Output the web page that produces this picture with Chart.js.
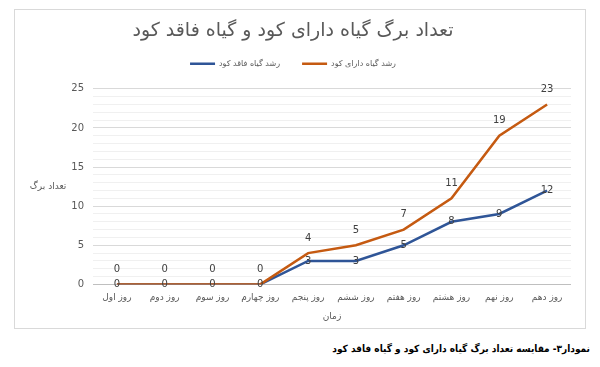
<!DOCTYPE html>
<html lang="fa">
<head>
    <meta charset="UTF-8">
    <title>تعداد برگ گیاه</title>
    <style>
        body { margin: 0; background: #fff; width: 600px; height: 367px; position: relative; overflow: hidden; }
        #box { position: absolute; left: 14px; top: 9px; width: 570px; height: 318px; border: 1px solid #d9d9d9; }
        #caption { position: absolute; right: 10px; top: 343px; font: bold 10px "DejaVu Sans Condensed", "DejaVu Sans", sans-serif; color: #000; direction: rtl; }
    </style>
</head>
<body>
    <div id="box">
        <canvas id="leafChart" width="570" height="318"></canvas>
    </div>
    <div id="caption">نمودار۳- مقایسه تعداد برگ گیاه دارای کود و گیاه فاقد کود</div>
    <script src="https://cdn.jsdelivr.net/npm/chart.js"></script>
    <script>
        // data
        const days = ['روز اول', 'روز دوم', 'روز سوم', 'روز چهارم', 'روز پنجم', 'روز ششم', 'روز هفتم', 'روز هشتم', 'روز نهم', 'روز دهم'];
        const withFertilizer = [0, 0, 0, 0, 4, 5, 7, 11, 19, 23];
        const withoutFertilizer = [0, 0, 0, 0, 3, 3, 5, 8, 9, 12];

        const labelColor = '#595959';
        const fontFamily = '"DejaVu Sans", sans-serif';

        // value labels: red above the point, blue centred on it
        const valueLabels = {
            id: 'valueLabels',
            afterDatasetsDraw(chart) {
                const ctx = chart.ctx;
                ctx.save();
                ctx.font = '10px ' + fontFamily;
                ctx.fillStyle = '#404040';
                ctx.textAlign = 'center';
                ctx.textBaseline = 'middle';
                chart.data.datasets.forEach((ds, i) => {
                    const meta = chart.getDatasetMeta(i);
                    meta.data.forEach((pt, j) => {
                        const dy = ds.labelAbove ? -15 : 0;
                        ctx.fillText(ds.data[j], pt.x, pt.y + dy);
                    });
                });
                ctx.restore();
            }
        };

        // horizontal y axis title
        const yTitle = {
            id: 'yTitle',
            afterDraw(chart) {
                const ctx = chart.ctx;
                const area = chart.chartArea;
                ctx.save();
                ctx.font = '9px ' + fontFamily;
                ctx.fillStyle = labelColor;
                ctx.textAlign = 'center';
                ctx.textBaseline = 'middle';
                ctx.fillText('تعداد برگ', area.left - 45, (area.top + area.bottom) / 2);
                ctx.restore();
            }
        };

        // extra room under the legend
        const legendGap = {
            id: 'legendGap',
            beforeInit(chart) {
                const fit = chart.legend.fit;
                chart.legend.fit = function () {
                    fit.bind(chart.legend)();
                    this.height += 11;
                };
            }
        };

        const chartContext = document.getElementById('leafChart').getContext('2d');
        new Chart(chartContext, {
            type: 'line',
            data: {
                labels: days,
                datasets: [
                    {
                        label: 'رشد گیاه دارای کود',
                        data: withFertilizer,
                        borderColor: '#C55A11',
                        backgroundColor: '#C55A11',
                        borderWidth: 2.5,
                        pointRadius: 0,
                        tension: 0,
                        labelAbove: true
                    },
                    {
                        label: 'رشد گیاه فاقد کود',
                        data: withoutFertilizer,
                        borderColor: '#2F5597',
                        backgroundColor: '#2F5597',
                        borderWidth: 2.5,
                        pointRadius: 0,
                        tension: 0,
                        labelAbove: false
                    }
                ]
            },
            options: {
                responsive: false,
                animation: false,
                layout: { padding: { left: 0, right: 14, top: 6, bottom: 6 } },
                plugins: {
                    title: {
                        display: true,
                        text: 'تعداد برگ گیاه دارای کود و گیاه فاقد کود',
                        color: labelColor,
                        font: { family: fontFamily, size: 19, weight: 'normal' },
                        padding: { top: 4, bottom: -5 }
                    },
                    legend: {
                        reverse: true,
                        labels: {
                            color: labelColor,
                            font: { family: fontFamily, size: 8 },
                            usePointStyle: true,
                            pointStyleWidth: 25,
                            pointStyle: 'line',
                            padding: 22
                        }
                    },
                    tooltip: { enabled: false }
                },
                scales: {
                    x: {
                        offset: true,
                        grid: { display: false, drawTicks: false },
                        border: { display: false },
                        ticks: { color: labelColor, font: { family: fontFamily, size: 9 }, padding: 8, maxRotation: 0 },
                        title: { display: true, text: 'زمان', color: labelColor, font: { family: fontFamily, size: 9 }, padding: { top: 0, bottom: 0 } }
                    },
                    y: {
                        min: 0,
                        max: 25,
                        afterFit(scale) { scale.width = 78; },
                        border: { display: false },
                        grid: {
                            drawTicks: false,
                            color: c => c.tick.value === 0 ? '#bfbfbf' : (c.tick.value % 5 === 0 ? '#d9d9d9' : '#f0f0f0'),
                            lineWidth: 1
                        },
                        ticks: {
                            stepSize: 1,
                            autoSkip: false,
                            color: labelColor,
                            font: { family: fontFamily, size: 10 },
                            padding: 9,
                            callback: v => v % 5 === 0 ? v : ''
                        }
                    }
                }
            },
            plugins: [valueLabels, yTitle, legendGap]
        });
    </script>
</body>
</html>
